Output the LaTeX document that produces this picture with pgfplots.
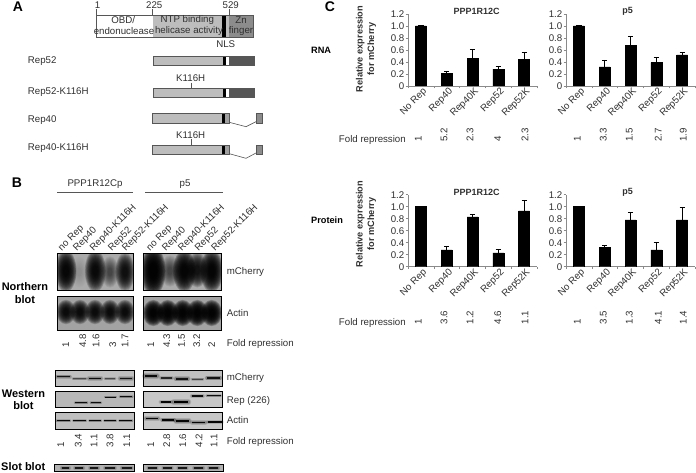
\documentclass[border=0pt]{standalone}
\usepackage{fontspec}
\setmainfont{Liberation Sans}
\usepackage{pgfplots}
\pgfplotsset{compat=1.18}
\definecolor{txt}{HTML}{303030}
\definecolor{axg}{HTML}{8A8A8A}
\definecolor{lg}{HTML}{BDBDBD}
\definecolor{mg}{HTML}{8C8C8C}
\definecolor{dg}{HTML}{565656}
\newcommand{\fn}{\fontsize{9.7}{11}\selectfont}
\newcommand{\fb}{\fontsize{9.2}{11.5}\selectfont\bfseries}
\newcommand{\bl}{\fontsize{11}{12}\selectfont\bfseries}
\newcommand{\lbl}[3]{\node[anchor=west,inner sep=0pt,text=txt,font=\fn] at (#1,#2) {#3};}
\newcommand{\ctr}[3]{\node[inner sep=0pt,text=txt,font=\fn] at (#1,#2) {#3};}
\newcommand{\fold}[3]{\node[rotate=90,anchor=west,inner sep=0pt,text=txt,font=\fn] at (#1,#2) {#3};}
\newcommand{\blob}[5]{%
  \foreach \s in {1.75,1.65,1.55,1.45,1.35,1.25,1.15,1.05,0.95,0.85,0.75,0.65,0.55,0.45}{%
    \fill[black,opacity=#5] (#1,#2) ellipse[x radius=\s*#3,y radius=\s*#4];}}
\newcommand{\band}[5]{%
  \draw[black,opacity=0.14,line width=#4*3pt,line cap=round] (#1,#3) -- (#2,#3);
  \draw[black,opacity=0.2,line width=#4*2pt,line cap=round] (#1,#3) -- (#2,#3);
  \draw[black,opacity=#5,line width=#4 pt] (#1,#3) -- (#2,#3);}
\newcommand{\frm}[4]{\draw[black,line width=0.9pt] (#1,#3) rectangle (#2,#4);}
\pgfplotsset{
  panel/.style={
    at={(#1)},anchor=south west,scale only axis,width=129pt,height=72pt,
    axis x line=bottom,axis y line=left,
    axis line style={axg,-,line width=0.7pt},
    tick style={axg,line width=0.6pt},
    xmin=-0.5,xmax=4.5,ymin=0,ymax=1.2,
    xtick={0,1,2,3,4},
    xticklabels={No Rep,Rep40,Rep40K,Rep52,Rep52K},
    minor xtick={-0.5,0.5,1.5,2.5,3.5,4.5},
    major x tick style={draw=none},
    minor tick length=2.5pt,
    ytick={0,0.2,0.4,0.6,0.8,1.0,1.2},
    yticklabels={0,0.2,0.4,0.6,0.8,1.0,1.2},
    major tick length=2.5pt,
    tick align=outside,
    ticklabel style={font=\fn,text=txt},
    yticklabel style={inner sep=1pt},
    xticklabel style={rotate=45,anchor=north east,inner sep=1pt,yshift=1pt,xshift=3pt},
    ybar,bar width=11pt,
  },
  bar/.style={fill=black,draw=black,bar shift=0pt,
    error bars/.cd,y dir=plus,y explicit,
    error bar style={black,line width=1pt},
    error mark options={black,rotate=90,mark size=2.6pt,line width=1pt}},
}
\begin{document}
\begin{tikzpicture}[x=1pt,y=-1pt]
\path[use as bounding box] (0,0) rectangle (696,473);

% ---------- Panel C charts
\begin{axis}[panel={408pt,-86pt}]
\addplot[bar] coordinates {(0,1.0)+-(0,0) (1,0.21)+-(0,0.035) (2,0.46)+-(0,0.15) (3,0.28)+-(0,0.04) (4,0.44)+-(0,0.12)};
\end{axis}
\begin{axis}[panel={566pt,-86pt}]
\addplot[bar] coordinates {(0,1.0)+-(0,0) (1,0.32)+-(0,0.10) (2,0.68)+-(0,0.15) (3,0.39)+-(0,0.09) (4,0.52)+-(0,0.04)};
\end{axis}
\begin{axis}[panel={408pt,-266.7pt}]
\addplot[bar] coordinates {(0,1.0)+-(0,0) (1,0.28)+-(0,0.05) (2,0.83)+-(0,0.04) (3,0.23)+-(0,0.05) (4,0.93)+-(0,0.18)};
\end{axis}
\begin{axis}[panel={566pt,-266.7pt}]
\addplot[bar] coordinates {(0,1.0)+-(0,0) (1,0.32)+-(0,0.04) (2,0.78)+-(0,0.13) (3,0.28)+-(0,0.12) (4,0.78)+-(0,0.21)};
\end{axis}

% Panel C text
\node[font=\fontsize{14}{14}\selectfont\bfseries,inner sep=0pt] at (330,6.5) {C};
\node[font=\fb,anchor=west,inner sep=0pt] at (311,50) {RNA};
\node[font=\fb,anchor=west,inner sep=0pt] at (311,220) {Protein};
\node[font=\fb,rotate=90,align=center,inner sep=0pt,text=txt] at (366,49) {Relative expression\\for mCherry};
\node[font=\fb,rotate=90,align=center,inner sep=0pt,text=txt] at (366,224) {Relative expression\\for mCherry};
\foreach \x/\t in {476.7/PPP1R12C,627.7/p5}{
  \node[font=\fontsize{9}{9}\selectfont\bfseries,inner sep=0pt,text=txt] at (\x,11) {\t};
  \node[font=\fontsize{9}{9}\selectfont\bfseries,inner sep=0pt,text=txt] at (\x,192.7) {\t};
}
\node[anchor=east,inner sep=0pt,text=txt,font=\fn] at (406,139.5) {Fold repression};
\node[anchor=east,inner sep=0pt,text=txt,font=\fn] at (406,322.7) {Fold repression};
\foreach \x/\t in {418.3/1,444/5.2,470/2.3,497.7/4,525/2.3,577.3/1,603.3/3.3,629.3/1.5,658.3/2.7,683.3/1.9}
  {\fold{\x}{141.7}{\t}}
\foreach \x/\t in {418.3/1,444/3.6,470/1.2,497.7/4.6,525/1.1,577.3/1,603.3/3.5,629.3/1.3,658.3/4.1,683.3/1.4}
  {\fold{\x}{324.3}{\t}}

% ---------- Panel A
\node[font=\fontsize{14}{14}\selectfont\bfseries,inner sep=0pt] at (18,7) {A};
\fill[white] (96.7,15) rectangle (152.7,37.3);
\fill[lg] (152.7,15) rectangle (222.3,37.3);
\fill[black] (222.3,15) rectangle (225.7,37.3);
\fill[lg] (225.7,15) rectangle (229,37.3);
\fill[mg] (229,15) rectangle (253.3,37.3);
\draw[dg,line width=0.7pt] (96.7,15) rectangle (253.3,37.3);
\draw[dg,line width=0.6pt] (96.7,9.5)--(96.7,15) (152.7,9.5)--(152.7,15) (229.3,9.5)--(229.3,15);
\ctr{97.5}{5}{1}\ctr{154.3}{5}{225}\ctr{230.7}{5}{529}
\ctr{123.3}{20}{OBD/}\ctr{124}{31}{endonuclease}
\ctr{187.3}{20}{NTP binding}\ctr{189}{31}{helicase activity}
\ctr{241}{20}{Zn}\ctr{241}{31}{finger}
\ctr{225.7}{44.5}{NLS}
% constructs
\lbl{27.7}{61}{Rep52}\lbl{27.7}{92}{Rep52-K116H}\lbl{27.7}{120}{Rep40}\lbl{27.7}{148.3}{Rep40-K116H}
\foreach \a/\b in {56.7/65.7,88.3/97.7}{
  \fill[lg] (153.3,\a) rectangle (222.7,\b);
  \fill[black] (222.7,\a) rectangle (225.7,\b);
  \fill[white] (225.7,\a) rectangle (229,\b);
  \fill[dg] (229,\a) rectangle (254,\b);
  \draw[dg,line width=0.7pt] (153.3,\a) rectangle (254,\b);
}
\foreach \a/\b/\c/\d in {113.3/123.3/126.7/121.7,145/154.7/158.3/153}{
  \fill[lg] (152.7,\a) rectangle (222.3,\b);
  \fill[mg!60!lg] (225.3,\a) rectangle (229.3,\b);
  \fill[black] (222.3,\a) rectangle (225.3,\b);
  \draw[dg,line width=0.7pt] (152.7,\a) rectangle (229.3,\b);
  \fill[mg] (256,\a) rectangle (262,\b);
  \draw[dg,line width=0.6pt] (256,\a) rectangle (262,\b);
  \draw[dg,line width=0.6pt] (229.3,\b-1) -- (246,\c) -- (256,\d);
}
\ctr{190.7}{77.7}{K116H}\draw[dg,line width=0.6pt] (191.3,82.7)--(191.3,88.3);
\ctr{190.7}{135}{K116H}\draw[dg,line width=0.6pt] (191.3,139.3)--(191.3,145);

% ---------- Panel B
\node[font=\fontsize{14}{14}\selectfont\bfseries,inner sep=0pt] at (17,183) {B};
\draw[dg,line width=1pt] (57,192.7)--(133,192.7) (145,192.7)--(223,192.7);
\ctr{95}{184}{PPP1R12Cp}\ctr{185}{184}{p5}
\foreach \x/\t in {60/no Rep,75/Rep40,91.7/Rep40-K116H,110/Rep52,124/Rep52-K116H,148.3/no Rep,164/Rep40,180/Rep40-K116H,196.7/Rep52,213.3/Rep52-K116H}
  {\node[rotate=45,anchor=west,inner sep=0pt,text=txt,font=\fn] at (\x,249.5) {\t};}
\node[font=\bl,inner sep=0pt] at (25,287) {Northern};
\node[font=\bl,inner sep=0pt] at (25,300) {blot};
% northern PPP mCherry
\begin{scope}
\clip (57.3,253) rectangle (133,290.7);
\fill[black!33] (57.3,253) rectangle (133,290.7);
\blob{66}{271}{6}{12}{0.19}\blob{79.3}{272}{5}{9}{0.012}\blob{95.3}{271}{6}{12}{0.17}\blob{110}{272}{5}{9}{0.06}\blob{125}{272}{5.5}{11}{0.15}
\end{scope}
\frm{57.3}{133}{253}{290.7}
% northern p5 mCherry
\begin{scope}
\clip (143.3,253) rectangle (221.7,290.7);
\fill[black!33] (143.3,253) rectangle (221.7,290.7);
\blob{153.3}{271}{7}{14}{0.24}\blob{170}{271}{5.5}{9}{0.06}\blob{184.3}{271}{6.5}{12}{0.2}\blob{197.3}{270}{5.5}{10}{0.14}\blob{211.7}{271}{6.5}{12}{0.2}
\end{scope}
\frm{143.3}{221.7}{253}{290.7}
% actin
\begin{scope}
\clip (57.3,296) rectangle (133,330.3);
\fill[black!36] (57.3,296) rectangle (133,330.3);
\foreach \x in {66,80,95,110,125}{\blob{\x}{312}{5.5}{7}{0.16}}
\end{scope}
\frm{57.3}{133}{296}{330.3}
\begin{scope}
\clip (143.3,296) rectangle (221.7,330.3);
\fill[black!36] (143.3,296) rectangle (221.7,330.3);
\foreach \x in {153.3,167.7,182.7,197.3,211.7}{\blob{\x}{313}{6}{7.5}{0.22}}
\end{scope}
\frm{143.3}{221.7}{296}{330.3}
\lbl{226.7}{271.7}{mCherry}\lbl{226.7}{312.7}{Actin}
\foreach \x/\t in {65.7/1,82.7/4.8,96/1.6,112.7/3,125/1.7,150.7/1,166.7/4.3,181.7/1.5,196.7/3.2,211.7/2}
  {\fold{\x}{348}{\t}}
\lbl{226.7}{344}{Fold repression}
% Western
\node[font=\bl,inner sep=0pt] at (23.5,394) {Western};
\node[font=\bl,inner sep=0pt] at (23.5,405.7) {blot};
\fill[black!25] (55,370) rectangle (134,386.7);
\fill[black!25] (143.3,370) rectangle (222.7,386.7);
\fill[black!28] (55,391.7) rectangle (134,407.7);
\fill[black!22] (143.3,391.7) rectangle (222.7,407.7);
\fill[black!25] (55,412.7) rectangle (134,429.3);
\fill[black!22] (143.3,412.7) rectangle (222.7,429.3);
\band{57}{70}{376.7}{1.4}{0.85}\band{73}{86}{378.7}{1}{0.45}\band{89}{101}{378.5}{1.6}{0.9}\band{105}{115}{378.7}{1}{0.45}\band{120}{132}{378.3}{1.6}{0.85}
\band{145}{157}{376}{2}{0.9}\band{161}{172}{378}{1.2}{0.7}\band{176}{188}{378.7}{1.8}{0.85}\band{192}{203}{379}{1}{0.5}\band{207}{220}{378}{1.6}{0.85}
\band{75}{87.3}{402.7}{0.9}{0.9}\band{90.7}{101}{402.7}{0.9}{0.9}\band{105}{116}{397}{0.8}{0.9}\band{120}{132.3}{396.5}{1}{0.9}
\band{160.7}{171}{402}{1.4}{0.95}\band{174}{188}{402}{2.2}{1}\band{191.7}{203}{396}{1.3}{0.9}\band{206.7}{220.7}{395.5}{1}{0.9}
\foreach \a/\b in {56.7/70,73.3/86,89.3/101,104.3/116,119.3/132.3}{\band{\a}{\b}{420.7}{0.9}{0.95}}
\band{145.7}{158.3}{418.5}{1.6}{0.95}\band{162.3}{174}{420}{1.6}{0.95}\band{176}{189}{421}{1.8}{0.95}\band{192.3}{205}{422.5}{1.6}{0.95}\band{207.7}{221.7}{422}{1.4}{0.95}
\frm{55}{134}{370}{386.7}\frm{143.3}{222.7}{370}{386.7}
\frm{55}{134}{391.7}{407.7}\frm{143.3}{222.7}{391.7}{407.7}
\frm{55}{134}{412.7}{429.3}\frm{143.3}{222.7}{412.7}{429.3}
\lbl{226.7}{378}{mCherry}\lbl{226.7}{401}{Rep (226)}\lbl{226.7}{420}{Actin}
\foreach \x/\t in {60.7/1,78.3/3.4,94/1.1,110/3.8,126.7/1.1,150.7/1,166.7/2.8,182.7/1.6,199/4.2,214/1.1}
  {\fold{\x}{447.3}{\t}}
\lbl{226.7}{441.7}{Fold repression}
% Slot
\node[font=\bl,inner sep=0pt,anchor=west] at (1,466.6) {Slot blot};
\fill[black!30] (54.3,464.3) rectangle (134,471.8);
\fill[black!30] (143.3,464.3) rectangle (223.3,471.8);
\foreach \a/\b in {61.7/69.3,75/83.3,90/98.3,105/115,121.7/131.7,148.3/156.7,163.3/171.7,178.3/186.7,194/203.3,209/218.3}
  {\band{\a}{\b}{468}{1.3}{0.8}}
\frm{54.3}{134}{464.3}{471.8}\frm{143.3}{223.3}{464.3}{471.8}
\end{tikzpicture}
\end{document}
